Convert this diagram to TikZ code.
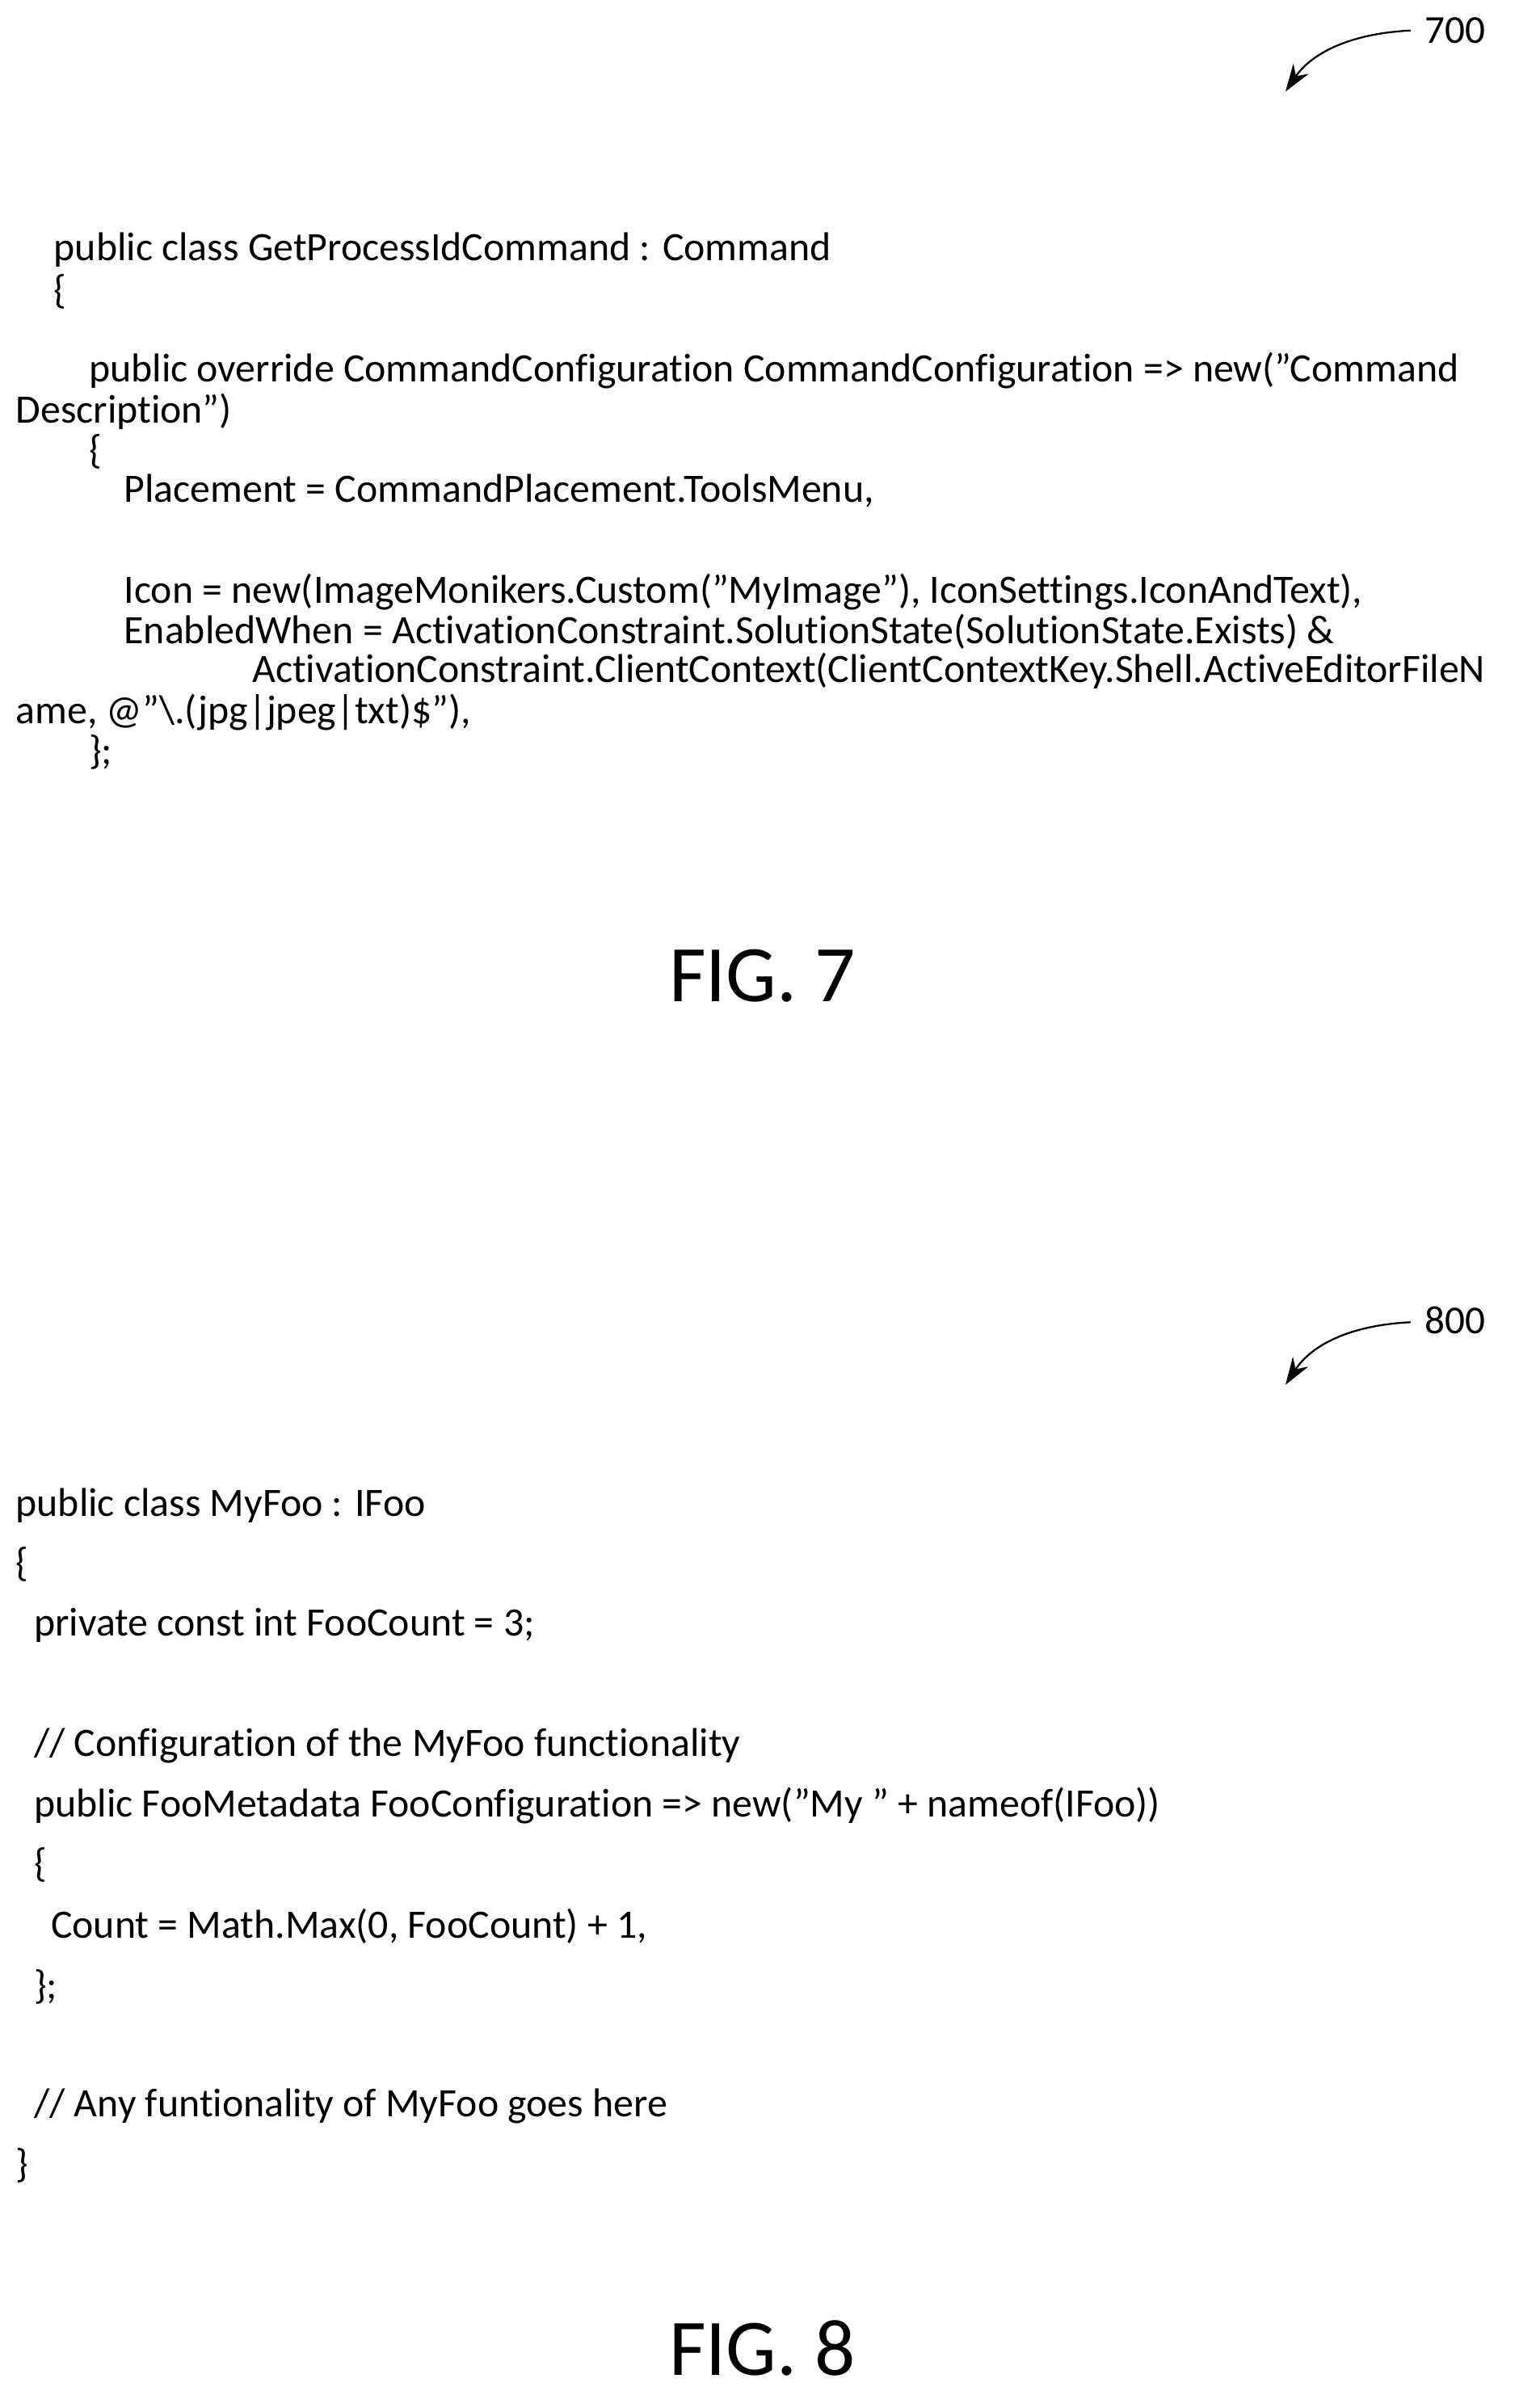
\documentclass[tikz,border=0pt]{standalone}
\usepackage{fontspec}
\setmainfont{Carlito}[Ligatures={NoCommon}]
\usetikzlibrary{arrows.meta}
\begin{document}
\begin{tikzpicture}[x=0.5pt,y=-0.5pt,
  code/.style={anchor=west,inner sep=0pt,yshift=-1.5pt,font=\fontsize{13.2pt}{15pt}\selectfont},
  fig/.style={inner sep=0pt,font=\fontsize{26.3pt}{30pt}\selectfont},
  ref/.style={anchor=west,inner sep=0pt,font=\fontsize{13pt}{15pt}\selectfont},
  refarrow/.style={line width=0.6pt,-{Stealth[length=9pt,width=6pt]}}]
\useasboundingbox (0,0) rectangle (993,1579);
% 700
\node[ref] (r700) at (934,20) {700};
\coordinate (s700) at (925,20);
\coordinate (a700) at (843,60);
\draw[refarrow] (s700) .. controls (885,22) and (860,35) .. (a700);
\node[code] (l1) at (35,161) {public class GetProcessIdCommand : Command};
\node[code] (l2) at (35,188) {\{};
\node[code] (l3) at (58,240) {public override CommandConfiguration CommandConfiguration => new("Command};
\node[code] (l4) at (10,267) {Description")};
\node[code] (l5) at (58,293) {\{};
\node[code] (l6) at (81,319) {Placement = CommandPlacement.ToolsMenu,};
\node[code] (l7) at (81,385) {Icon = new(ImageMonikers.Custom("MyImage"), IconSettings.IconAndText),};
\node[code] (l8) at (81,411) {EnabledWhen = ActivationConstraint.SolutionState(SolutionState.Exists) \&};
\node[code] (l9) at (165,437) {ActivationConstraint.ClientContext(ClientContextKey.Shell.ActiveEditorFileN};
\node[code] (l10) at (10,464) {ame, @"\textbackslash.(jpg\textbar jpeg\textbar txt)\$"),};
\node[code] (l11) at (58,490) {\};};
\node[fig] (f7) at (500,640) {FIG. 7};
% 800
\node[ref] (r800) at (934,866) {800};
\coordinate (s800) at (925,867);
\coordinate (a800) at (843,908);
\draw[refarrow] (s800) .. controls (885,869) and (860,882) .. (a800);
\node[code] (m1) at (10,984) {public class MyFoo : IFoo};
\node[code] (m2) at (10,1023) {\{};
\node[code] (m3) at (22,1063) {private const int FooCount = 3;};
\node[code] (m4) at (22,1142) {// Configuration of the MyFoo functionality};
\node[code] (m5) at (22,1181) {public FooMetadata FooConfiguration => new("My " + nameof(IFoo))};
\node[code] (m6) at (22,1220) {\{};
\node[code] (m7) at (33,1260) {Count = Math.Max(0, FooCount) + 1,};
\node[code] (m8) at (22,1300) {\};};
\node[code] (m9) at (22,1378) {// Any funtionality of MyFoo goes here};
\node[code] (m10) at (10,1417) {\}};
\node[fig] (f8) at (500,1540) {FIG. 8};
\end{tikzpicture}
\end{document}
